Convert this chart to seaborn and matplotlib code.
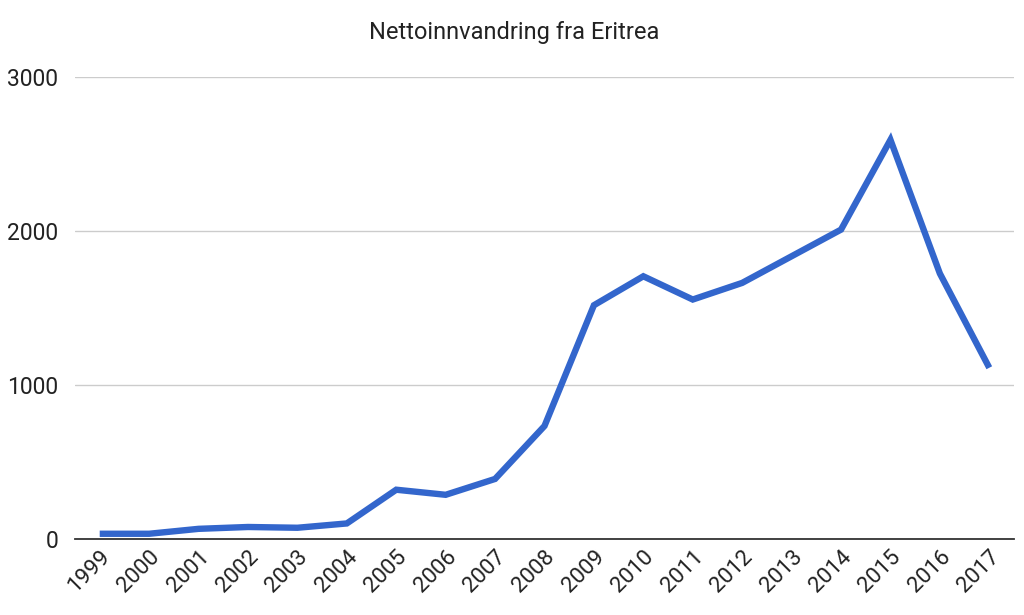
import pandas as pd
import seaborn as sns
import matplotlib
matplotlib.use("Agg")
import matplotlib.pyplot as plt
import matplotlib.transforms as mtransforms

# DATA
years = ["1999", "2000", "2001", "2002", "2003", "2004", "2005", "2006", "2007", "2008",
         "2009", "2010", "2011", "2012", "2013", "2014", "2015", "2016", "2017"]
netto = [34, 34, 66, 78, 73, 101, 320, 287, 390, 734,
         1518, 1706, 1555, 1663, 1836, 2009, 2592, 1724, 1112]
y_ticks = [0, 1000, 2000, 3000]
title = "Nettoinnvandring fra Eritrea"

df = pd.DataFrame({"year": years, "netto": netto})
df["pos"] = range(len(df))

sns.set_theme(style="white")
plt.rcParams["font.family"] = ["Roboto", "DejaVu Sans"]

fig = plt.figure(figsize=(10.24, 6.15), dpi=100)
ax = fig.add_axes([75 / 1024, 1 - 539 / 615, 939 / 1024, 462 / 615])

sns.lineplot(data=df, x="pos", y="netto", ax=ax, color="#3366cc",
             linewidth=4.6, solid_joinstyle="miter", solid_capstyle="butt", zorder=3)

# AXES
ax.set_xlim(-0.5, len(years) - 0.5)
ax.set_ylim(0, 3000)
ax.set_yticks(y_ticks)
ax.set_yticklabels([str(t) for t in y_ticks], fontsize=16.5, color="#222222")
ax.set_xticks(df["pos"])
ax.set_xticklabels(years, rotation=45, ha="right", rotation_mode="anchor",
                   fontsize=16, color="#222222")
# nudge rotated labels a little to the right, like the reference
shift = mtransforms.ScaledTranslation(6 / 100, 0, fig.dpi_scale_trans)
for lbl in ax.get_xticklabels():
    lbl.set_transform(lbl.get_transform() + shift)
ax.tick_params(axis="y", length=0, pad=12)
ax.tick_params(axis="x", length=0, pad=5)
ax.grid(axis="y", color="#cccccc", linewidth=1)
ax.set_xlabel("")
ax.set_ylabel("")
for s in ["top", "right", "left"]:
    ax.spines[s].set_visible(False)
ax.spines["bottom"].set_color("#333333")
ax.spines["bottom"].set_linewidth(1.3)

fig.text(514 / 1024, 1 - 33 / 615, title, ha="center", va="center",
         fontsize=17, color="#222222")

fig.savefig("out.png", dpi=100)
